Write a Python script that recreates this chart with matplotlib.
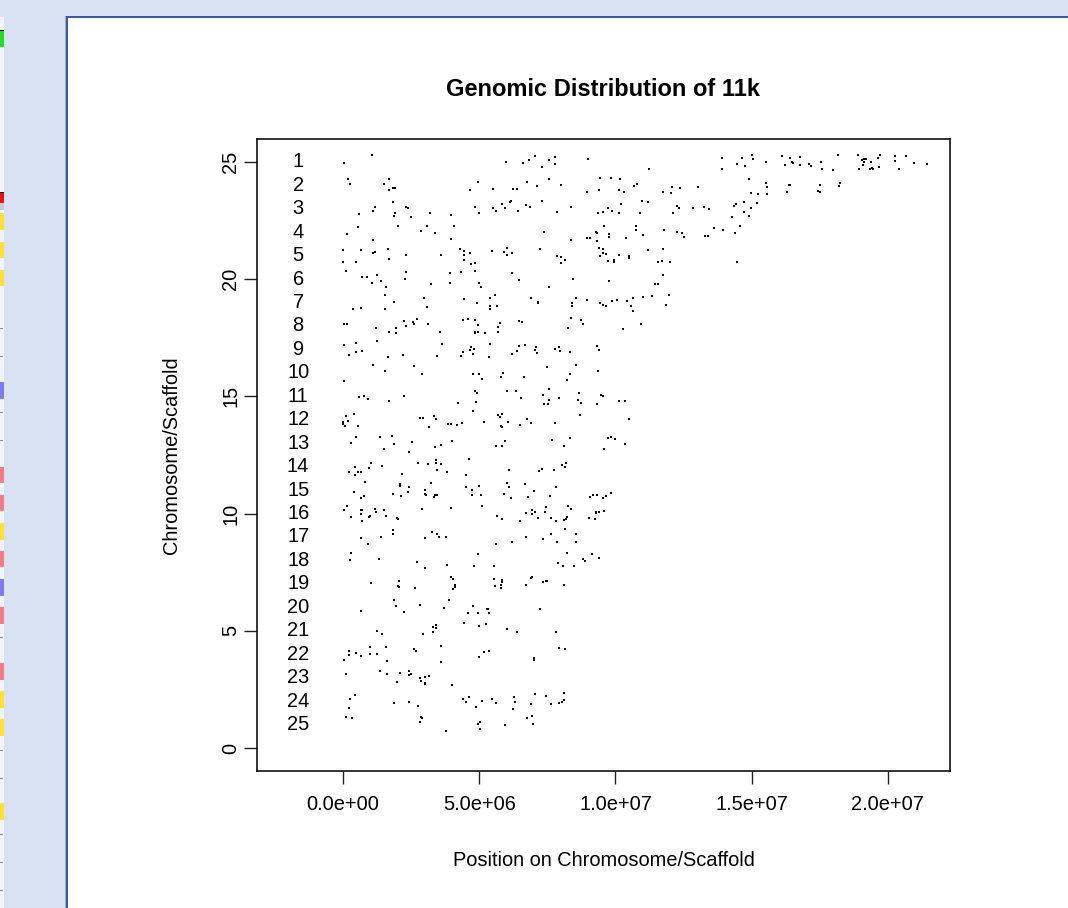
import matplotlib
matplotlib.use("Agg")
import matplotlib.pyplot as plt
from matplotlib.patches import Rectangle

# ---------------- data (positions in Mb, y = 26 - chromosome + jitter) -------------
chrom_labels = [str(i) for i in range(1, 26)]
x_ticks = [0, 5e6, 1e7, 1.5e7, 2e7]
x_tick_labels = ["0.0e+00", "5.0e+06", "1.0e+07", "1.5e+07", "2.0e+07"]
y_ticks = [0, 5, 10, 15, 20, 25]

# chromosomes 1-8, positions 0-5.6 Mb
band_a = [(0.05,24.96),(1.05,25.27),(0.17,24.26),(0.27,24.05),(1.70,24.27),(1.52,24.05),(1.69,23.78),(1.82,23.88),(1.92,23.88),(4.66,23.81),(4.95,24.13),(5.50,23.83),(1.85,23.29),(1.17,23.07),(1.11,22.88),(0.59,22.77),(1.91,22.80),(1.87,22.67),(2.30,23.08),(2.37,23.01),(2.50,22.65),(3.19,22.80),(3.98,22.71),(4.84,23.07),(5.50,23.02),(5.00,22.81),(0.55,22.21),(0.13,21.93),(2.01,22.24),(2.85,22.06),(3.09,22.24),(3.38,21.96),(4.06,22.27),(3.96,21.69),(1.09,21.67),(0.00,21.25),(0.67,21.23),(1.16,21.17),(1.10,21.09),(1.64,21.26),(1.69,20.85),(2.31,21.03),(0.00,20.71),(0.49,20.72),(3.61,21.03),(4.29,21.27),(4.44,21.20),(4.43,21.03),(4.45,20.83),(4.67,21.13),(4.71,20.66),(4.86,20.68),(5.48,21.20),(0.09,20.32),(0.70,20.07),(0.89,20.08),(1.05,19.84),(1.25,20.18),(1.38,19.92),(1.59,19.64),(2.30,20.29),(2.29,19.99),(1.53,19.31),(1.88,19.04),(2.98,19.18),(3.23,19.78),(3.91,20.27),(3.93,19.82),(4.33,20.28),(4.83,20.32),(4.99,19.84),(5.05,19.68),(4.45,19.14),(4.92,18.98),(5.39,19.20),(5.57,19.30),(0.38,18.73),(0.67,18.76),(1.53,18.74),(3.08,18.81),(5.39,18.84),(5.39,18.73),(0.05,18.09),(0.15,18.09),(1.21,17.93),(1.68,17.73),(1.94,17.92),(1.96,17.68),(2.25,18.20),(2.30,17.99),(2.56,18.17),(2.62,18.10),(2.73,18.30),(3.11,18.09),(3.56,17.73),(4.40,18.26),(4.57,18.29),(4.86,18.27),(4.97,18.03),(4.84,17.76),(4.94,17.76),(4.84,17.68),(5.22,17.68)]

# chromosomes 1-8, positions 5.6-11.3 Mb
band_b = [(5.98,24.99),(6.61,24.94),(6.81,25.09),(7.05,25.23),(7.57,25.06),(7.78,25.21),(7.79,24.90),(7.30,24.76),(8.98,25.13),(11.24,24.70),
(6.23,23.83),(6.37,23.83),(6.76,24.13),(7.12,23.95),(7.56,24.27),(7.99,24.00),(8.97,23.72),(9.43,24.29),(9.39,23.81),(9.85,24.32),(10.18,24.25),(10.12,23.78),(10.32,23.73),(10.68,23.98),(10.78,24.06),
(5.61,22.91),(5.82,23.21),(5.93,23.02),(6.13,23.28),(6.17,23.32),(6.41,22.92),(6.70,23.17),(6.86,23.07),(7.30,23.32),(7.84,22.85),(8.37,23.09),(9.37,22.80),(9.53,22.87),(9.71,23.01),(9.87,22.91),(10.14,22.81),(10.19,23.19),(10.89,22.82),(10.96,23.32),(11.18,23.27),
(7.39,22.00),(8.35,21.66),(8.97,21.73),(9.06,21.73),(9.27,21.99),(9.32,21.96),(9.32,21.64),(9.58,22.27),(9.76,21.91),(9.77,21.79),(10.37,21.74),(10.74,22.27),(10.74,22.07),(11.00,21.87),
(5.92,21.17),(6.01,21.32),(6.02,21.02),(6.20,21.12),(7.23,21.27),(7.84,20.98),(7.99,20.92),(8.15,20.82),(8.00,20.69),(9.41,21.32),(9.55,21.26),(9.53,21.12),(9.44,20.99),(9.64,21.06),(9.74,20.76),(9.96,20.82),(9.96,20.71),(10.14,21.02),(10.51,20.96),(10.51,20.89),(11.18,21.25),
(6.20,20.24),(6.45,19.97),(7.55,19.67),(8.44,20.02),(9.76,19.92),(5.66,18.83),(6.89,19.21),(7.17,19.03),(7.17,18.96),(8.40,18.97),(8.40,18.83),(8.56,19.21),(8.94,19.11),(9.42,18.97),(9.53,18.90),(9.64,18.84),(9.86,19.08),(10.05,19.10),(10.43,19.08),(10.63,19.17),(11.00,19.24),(10.57,18.86),(10.63,18.64),
(5.76,18.13),(5.70,17.95),(5.70,17.76),(6.47,18.19),(6.57,18.15),(8.35,18.33),(8.72,18.27),(8.80,18.09),(8.25,17.93),(10.29,17.85),(10.92,18.09)]

# chromosomes 1-8, positions beyond 11.3 Mb
band_c = [(13.91,25.16),(13.91,24.69),(14.46,24.89),(14.64,25.16),(14.75,24.83),(15.01,25.28),(15.06,25.11),(15.54,24.97),(16.13,25.26),(16.24,24.86),(16.40,25.14),(16.47,25.01),(16.51,24.96),(16.78,25.21),(16.78,24.86),(17.11,24.92),(17.16,24.82),(17.55,24.99),(17.59,24.67),(17.99,24.64),(18.17,25.28),(18.89,25.30),(18.94,24.67),(19.05,25.06),(19.10,24.87),(19.12,25.10),(19.18,25.13),(19.12,25.01),(19.37,25.01),(19.35,24.67),(19.40,24.73),(19.45,24.70),(19.63,25.14),(19.69,24.79),(19.72,25.28),(20.27,25.26),(20.27,25.04),(20.39,24.70),(20.65,25.24),(20.95,24.94),(21.43,24.92),
(14.89,24.26),(15.54,24.10),(15.57,23.93),(14.96,23.68),(15.23,23.63),(15.57,23.63),(16.37,24.02),(16.42,24.02),(16.31,23.73),(17.44,23.76),(17.49,23.69),(17.52,24.02),(18.21,23.95),(18.25,24.09),
(11.73,23.73),(12.05,23.66),(12.07,23.92),(12.37,23.88),(13.03,23.92),(12.26,23.12),(12.32,23.02),(12.86,23.01),(13.25,23.08),(13.44,22.99),(12.12,22.80),
(14.36,23.12),(14.41,23.19),(14.70,23.27),(14.96,23.02),(15.18,23.24),(14.70,22.85),(14.91,22.70),(14.26,22.64),
(11.78,22.07),(12.25,22.01),(12.43,21.97),(12.51,21.77),(13.27,21.84),(13.39,21.84),(13.60,22.18),(13.93,22.08),(14.40,21.96),(14.56,22.24),
(11.74,21.26),(11.56,20.72),(11.71,20.78),(12.00,20.72),(14.47,20.72),
(11.73,20.16),(11.45,19.79),(11.55,19.79),(11.33,19.27),(11.95,19.31),(11.84,18.88)]

# chromosomes 9-16
band_d = [(0.05,17.18),(0.48,17.26),(1.26,17.34),(0.20,16.75),(0.48,16.88),(0.69,16.92),(1.65,16.68),(2.21,16.75),(3.62,17.24),(3.46,16.72),(4.32,16.72),(4.40,16.89),(4.65,16.99),(4.71,17.11),(4.82,17.02),(4.77,16.81),(5.41,17.21),(5.37,16.67),(6.19,16.81),(6.39,16.92),(6.47,17.16),(6.69,17.18),(7.06,16.99),(7.09,17.12),(7.11,16.84),(7.79,17.02),(7.94,17.11),(7.95,16.91),(8.34,16.88),(9.33,17.15),(9.41,16.99),
(1.10,16.33),(1.54,16.07),(2.61,16.31),(2.90,15.96),(0.05,15.67),(4.78,15.96),(5.00,15.93),(5.11,15.73),(5.80,15.83),(5.86,16.00),(6.65,15.83),(7.49,16.23),(8.21,15.70),(8.34,15.94),(8.55,16.33),(9.37,16.08),
(0.60,14.95),(0.77,15.02),(0.93,14.87),(1.70,14.78),(2.24,15.03),(4.21,14.72),(4.86,15.24),(4.92,15.16),(4.87,14.76),(6.02,15.24),(6.36,15.24),(6.54,14.92),(7.35,15.07),(7.56,15.32),(7.57,14.83),(7.39,14.66),(7.51,14.66),(7.93,14.92),(8.62,14.86),(8.67,15.16),(8.72,14.70),(9.31,14.68),(9.48,15.07),(9.53,15.03),(10.13,14.80),(10.35,14.80),
(0.00,13.89),(0.01,13.82),(0.07,13.74),(0.11,14.14),(0.18,13.96),(0.40,14.25),(0.56,13.74),(2.83,14.09),(2.92,14.09),(3.35,14.16),(3.40,14.05),(3.17,13.68),(3.85,13.81),(3.96,13.81),(4.20,13.77),(4.38,13.85),(4.78,14.35),(5.17,13.89),(5.69,14.21),(5.76,14.11),(5.85,14.25),(5.80,13.75),(5.85,13.68),(6.06,13.89),(6.50,13.77),(6.76,14.04),(6.89,13.85),(7.78,13.88),(8.71,14.22),(10.50,14.04),
(0.29,13.01),(0.49,13.25),(1.36,13.25),(1.50,12.76),(1.81,13.32),(1.86,12.98),(2.41,12.64),(2.54,13.05),(3.38,12.83),(3.58,12.94),(4.01,13.08),(5.61,12.90),(5.82,12.87),(5.95,13.08),(7.66,13.14),(8.11,12.90),(8.33,13.23),(9.57,12.77),(9.74,13.23),(9.84,13.27),(9.98,13.17),(10.34,12.97),
(0.20,11.77),(0.43,11.99),(0.44,11.66),(0.56,11.75),(0.66,11.79),(0.94,11.96),(1.03,12.14),(1.43,12.03),(2.18,11.68),(2.75,12.17),(3.11,12.13),(3.41,12.29),(3.41,12.14),(3.44,11.87),(3.60,12.13),(3.83,11.76),(4.51,11.66),(4.61,12.34),(6.10,11.87),(7.19,11.80),(7.30,11.90),(7.74,11.87),(8.04,12.06),(8.15,12.00),(8.20,12.16),
(0.82,11.33),(0.40,10.92),(0.67,10.65),(0.78,10.74),(1.85,10.82),(2.08,11.25),(2.09,11.19),(2.12,10.75),(2.37,10.91),(2.42,11.12),(3.00,10.99),(3.00,10.85),(3.03,10.77),(3.22,11.29),(3.33,10.71),(3.38,10.77),(3.43,10.79),(4.51,11.15),(4.75,10.99),(4.73,10.79),(4.99,11.18),(5.06,10.81),(5.92,10.85),(6.02,11.31),(6.08,11.13),(6.15,10.67),(6.69,11.26),(6.80,10.69),(7.02,10.96),(7.58,10.75),(7.80,11.13),(9.06,10.69),(9.19,10.81),(9.33,10.77),(9.54,10.68),(9.64,10.75),(9.82,10.88),
(0.04,10.13),(0.15,10.34),(0.29,9.87),(0.66,9.98),(0.67,10.13),(0.71,10.15),(0.71,9.66),(0.94,9.84),(0.98,9.88),(1.19,10.20),(1.22,10.07),(1.52,10.15),(1.57,9.90),(1.98,9.80),(2.03,9.76),(2.90,10.18),(3.98,10.25),(5.11,10.34),(5.64,9.90),(5.85,9.76),(6.51,9.66),(6.73,10.04),(6.92,9.98),(6.95,10.13),(7.05,10.05),(7.17,9.80),(7.40,10.08),(7.45,10.28),(7.62,9.80),(7.83,9.68),(8.12,9.73),(8.21,9.87),(8.20,9.77),(8.24,10.30),(8.38,10.21),(9.03,9.80),(9.25,9.76),(9.27,10.03),(9.28,10.08),(9.41,10.05),(9.57,10.10),
(1.83,9.30),(3.28,9.22),(8.15,9.34),(7.65,9.12),(1.83,9.12),(3.43,9.12),(8.54,9.12)]

# chromosomes 17-25
band_e = [(0.66,8.96),(1.38,8.99),(0.92,8.70),(3.01,8.94),(3.52,8.99),(3.79,8.99),(5.63,8.70),(6.19,8.80),(6.72,9.00),(7.35,8.93),(7.87,8.80),(8.54,8.77),
(0.29,8.30),(0.24,8.02),(1.32,8.06),(2.73,7.94),(3.01,7.69),(3.80,7.81),(4.82,7.76),(4.97,8.29),(5.55,7.78),(7.90,7.88),(8.07,7.76),(8.21,8.33),(8.48,7.76),(8.82,8.05),(8.88,7.98),(9.13,8.29),(9.41,8.09),
(1.02,7.04),(2.06,7.14),(2.01,6.91),(2.06,6.85),(2.65,6.83),(3.96,7.31),(4.04,7.22),(4.12,6.97),(4.12,6.85),(4.05,6.78),(5.54,7.22),(5.83,7.17),(5.85,7.10),(5.80,6.97),(5.59,6.91),(5.79,6.81),(6.70,6.94),(6.89,7.27),(6.92,7.30),(7.33,7.08),(7.45,7.12),(7.50,7.14),(8.10,6.94),
(0.66,5.86),(1.87,6.31),(1.93,6.04),(2.23,5.79),(2.83,6.11),(3.71,5.97),(3.87,6.30),(4.77,6.07),(4.60,5.76),(4.97,5.76),(5.28,5.94),(5.31,5.92),(5.37,5.75),(7.23,5.94),(4.45,5.35),(4.98,5.22),(5.25,5.28),(6.01,5.08),(6.40,4.95),(7.80,4.95),(1.24,5.01),(1.43,4.88),(2.94,4.88),(3.29,5.16),(3.40,5.25),(3.41,5.13),(3.29,4.96),
(0.20,4.15),(0.20,3.97),(0.04,3.77),(0.46,4.07),(0.64,3.91),(0.99,4.31),(0.99,4.02),(1.24,4.02),(1.58,4.29),(1.60,3.71),(2.61,4.24),(2.68,4.12),(3.60,4.34),(3.60,3.68),(5.16,4.11),(5.36,4.14),(4.99,3.88),(7.00,3.83),(7.00,3.75),(7.93,4.27),(8.14,4.22),
(0.12,3.16),(1.36,3.30),(1.63,3.14),(2.08,3.20),(2.43,3.30),(2.42,3.13),(2.48,3.14),(1.98,2.80),(2.84,2.97),(2.86,2.87),(3.01,3.04),(3.17,3.07),(3.01,2.79),(3.02,2.72),(3.99,2.67),
(0.44,2.26),(0.24,2.09),(0.22,1.69),(1.86,1.93),(2.42,1.98),(2.75,1.79),(4.40,2.09),(4.51,1.95),(4.62,2.16),(4.88,1.75),(5.09,1.99),(5.46,2.09),(5.63,1.91),(6.25,1.68),(6.29,2.18),(6.31,1.96),(6.90,1.89),(7.05,2.30),(7.46,2.22),(7.63,1.86),(7.93,1.92),(8.02,1.98),(8.12,2.03),(8.12,2.33),
(0.12,1.31),(0.31,1.27),(2.86,1.31),(2.89,1.28),(2.83,1.11),(4.97,1.02),(5.03,1.12),(5.04,0.82),(5.94,1.00),(6.75,1.29),(6.94,1.35),(6.98,1.02),(3.77,0.74)]

# ---------------- figure ----------------
W, H = 1068, 908
FONT = ["Liberation Sans", "DejaVu Sans"]
plt.rcParams["font.family"] = FONT

fig = plt.figure(figsize=(W / 100, H / 100), dpi=100)
fig.patch.set_facecolor("#D9E2F2")


def fbox(x, y, w, h, color):
    fig.add_artist(Rectangle((x / W, 1 - (y + h) / H), w / W, h / H,
                             transform=fig.transFigure, facecolor=color,
                             edgecolor="none", zorder=0))


# left page strip with coloured markers
fbox(0, 17, 4, H - 17, "#F2F4FC")
marks = [(30, 31, "#111111"), (31, 47, "#22DD22"), (192, 193, "#111111"),
         (193, 203, "#EE1111"), (203, 210, "#C8CAD4"),
         (213, 230, "#FFE033"), (242, 258, "#FFE033"), (270, 286, "#FFE033"),
         (382, 399, "#7C7CF2"), (467, 483, "#F47A85"), (495, 511, "#F47A85"),
         (523, 540, "#FFE033"), (551, 567, "#F47A85"), (579, 596, "#7C7CF2"),
         (607, 624, "#F47A85"), (663, 680, "#F47A85"), (691, 708, "#FFE033"),
         (719, 736, "#FFE033"), (803, 820, "#FFE033")]
for y0, y1, c in marks:
    fbox(0, y0, 4, y1 - y0, c)
for yd in [328, 356, 412, 440, 637, 750, 778, 834, 862, 890]:
    fbox(0, yd, 3, 1, "#8A8A8A")

# white panel with dark blue border
fbox(64.5, 15.7, W - 64.5, H - 15.7, "#9FB0CF")
fbox(65.5, 15.7, W - 65.5, H - 15.7, "#3B5B99")
fbox(68.2, 18.3, W - 68.2, H - 18.3, "white")

# ---------------- axes ----------------
L, R, T, B = 257, 950, 139, 771
ax = fig.add_axes([L / W, 1 - B / H, (R - L) / W, (B - T) / H])
ax.set_facecolor("white")

all_pts = band_a + band_b + band_c + band_d + band_e
xs = [p[0] * 1e6 for p in all_pts]
ys = [p[1] for p in all_pts]
ax.scatter(xs, ys, marker="s", s=2.8, c="black", linewidths=0)

for i, lab in enumerate(chrom_labels):
    ax.text(-1.65e6, 25 - i, lab, ha="center", va="center", fontsize=14.4,
            family=FONT)

ax.set_xlim(-3.16e6, 22.28e6)
ax.set_ylim(-0.98, 25.97)
ax.set_xticks(x_ticks)
ax.set_xticklabels(x_tick_labels, fontsize=14.4)
ax.set_yticks(y_ticks)
ax.set_yticklabels([str(v) for v in y_ticks], fontsize=14.4, rotation=90,
                   va="center")
ax.tick_params(axis="both", direction="out", length=9.4, width=1.0,
               color="#222222")
ax.tick_params(axis="x", pad=8)
ax.tick_params(axis="y", pad=2.5)
for s in ax.spines.values():
    s.set_linewidth(1.2)
    s.set_color("#111111")

fig.text(603.5 / W, 1 - 90 / H, "Genomic Distribution of 11k", ha="center",
         va="center", fontsize=17.0, fontweight="bold")
fig.text(603.5 / W, 1 - 860 / H, "Position on Chromosome/Scaffold",
         ha="center", va="center", fontsize=14.4)
fig.text(172 / W, 1 - 455 / H, "Chromosome/Scaffold", ha="center",
         va="center", fontsize=14.4, rotation=90)

fig.savefig("out.png", dpi=100, facecolor=fig.get_facecolor())
